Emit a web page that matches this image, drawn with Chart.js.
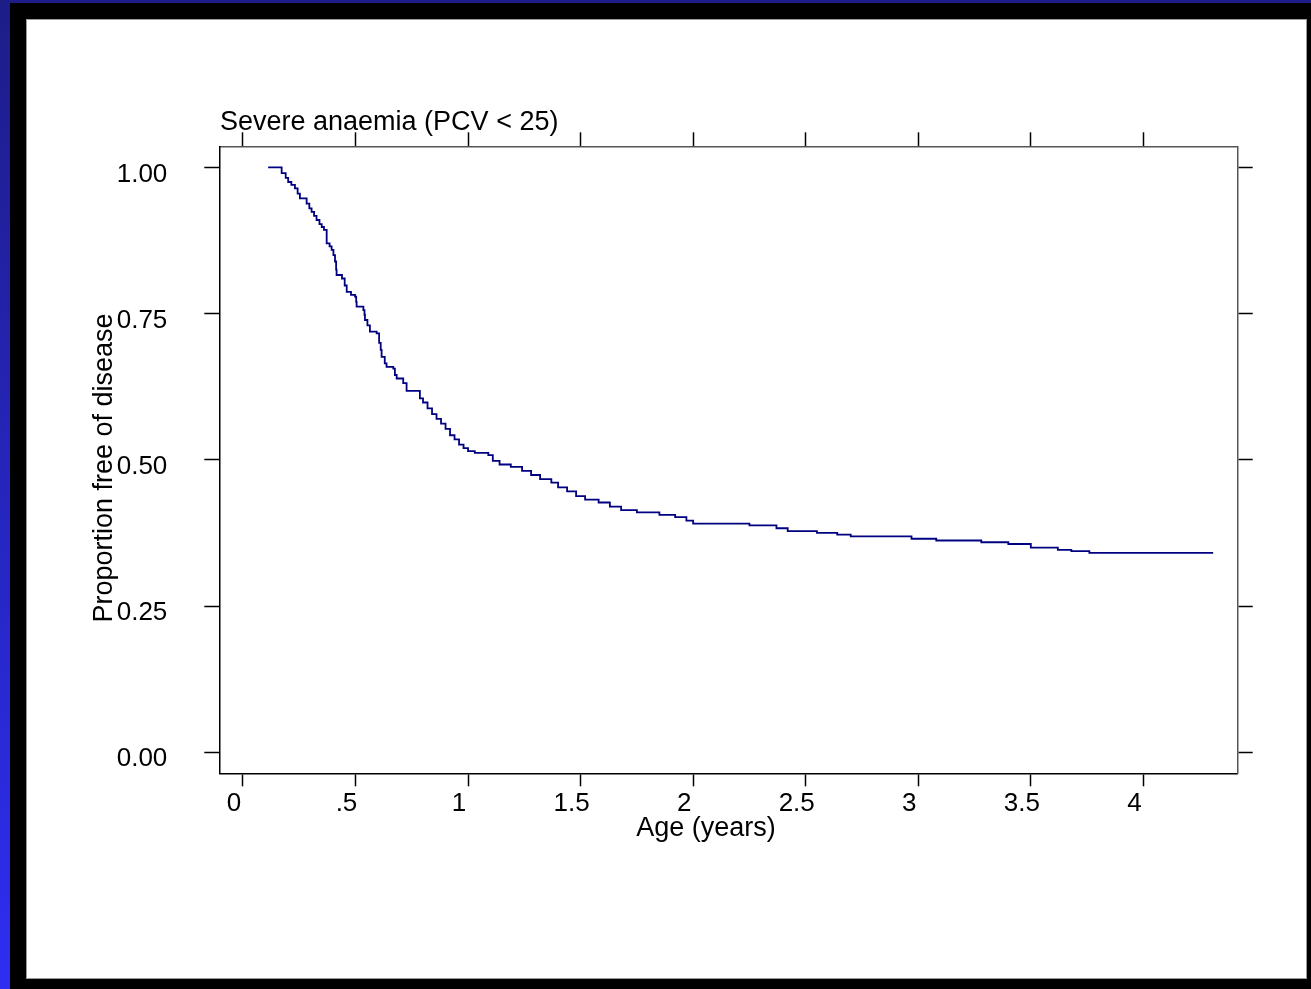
<!DOCTYPE html>
<html>
<head>
<meta charset="utf-8">
<script src="https://cdn.jsdelivr.net/npm/chart.js@4.4.0/dist/chart.umd.min.js"></script>
<style>
  body { margin: 0; width: 1311px; height: 989px; overflow: hidden; }
  #slide { position: absolute; left: 0; top: 0; width: 1311px; height: 989px; background: linear-gradient(#1d1d88, #2e2ef2); }
  #frame { position: absolute; left: 10px; top: 3px; width: 1301px; height: 986px; background: #000; }
  #panel { position: absolute; left: 26px; top: 19px; width: 1279px; height: 958px; background: #fff; border: 1px solid #999; }
  #chart { position: absolute; left: 0; top: 0; }
</style>
</head>
<body>
<div id="slide"></div>
<div id="frame"></div>
<div id="panel"></div>
<canvas id="chart" width="1311" height="989"></canvas>
<script>
// Kaplan-Meier steps: age (years) and proportion still free of disease
const ageYears = [0.112, 0.172, 0.190, 0.201, 0.215, 0.231, 0.243, 0.253, 0.283, 0.295, 0.305, 0.316, 0.327, 0.340, 0.350, 0.360,
  0.372, 0.385, 0.394, 0.402, 0.409, 0.414, 0.416, 0.440, 0.452, 0.461, 0.480, 0.498, 0.503, 0.505, 0.535, 0.540,
  0.542, 0.553, 0.564, 0.594, 0.605, 0.612, 0.616, 0.630, 0.638, 0.668, 0.675, 0.683, 0.712, 0.727, 0.786,
  0.80, 0.82, 0.84, 0.86, 0.88, 0.90, 0.92, 0.94, 0.96, 0.98, 1.00, 1.03, 1.09, 1.11, 1.14, 1.19, 1.24, 1.28,
  1.32, 1.37, 1.40, 1.44, 1.48, 1.52, 1.58, 1.63, 1.68, 1.75, 1.85, 1.92, 1.97, 2.00, 2.25, 2.37, 2.42, 2.55,
  2.64, 2.70, 2.97, 3.08, 3.28, 3.40, 3.50, 3.62, 3.68, 3.76, 4.31];
const propFree = [1.000, 0.990, 0.982, 0.975, 0.970, 0.964, 0.955, 0.947, 0.938, 0.930, 0.924, 0.917, 0.910, 0.903, 0.898, 0.893,
  0.870, 0.865, 0.859, 0.850, 0.839, 0.825, 0.816, 0.810, 0.798, 0.787, 0.782, 0.779, 0.770, 0.762, 0.756, 0.748,
  0.739, 0.730, 0.719, 0.716, 0.700, 0.688, 0.676, 0.665, 0.659, 0.656, 0.645, 0.639, 0.631, 0.618, 0.605,
  0.598, 0.588, 0.578, 0.570, 0.562, 0.553, 0.542, 0.535, 0.526, 0.520, 0.515, 0.512, 0.508, 0.498, 0.492, 0.488, 0.481, 0.474,
  0.467, 0.461, 0.453, 0.446, 0.438, 0.432, 0.427, 0.420, 0.414, 0.410, 0.406, 0.402, 0.396, 0.391, 0.388, 0.383, 0.378, 0.375,
  0.372, 0.369, 0.365, 0.362, 0.359, 0.356, 0.350, 0.346, 0.344, 0.341, 0.341];

const xTicks = [0, 0.5, 1, 1.5, 2, 2.5, 3, 3.5, 4];
const xTickLabels = ['0', '.5', '1', '1.5', '2', '2.5', '3', '3.5', '4'];
const yTicks = [0, 0.25, 0.5, 0.75, 1];
const yTickLabels = ['0.00', '0.25', '0.50', '0.75', '1.00'];

const FONT = '"Liberation Sans", Arial, sans-serif';
Chart.defaults.font.family = FONT;
Chart.defaults.font.size = 26;
Chart.defaults.color = '#000';

const points = ageYears.map((a, i) => ({ x: a, y: propFree[i] }));

function axisStyle(tickLength) {
  return {
    display: true,
    drawOnChartArea: false,
    drawTicks: true,
    tickLength: tickLength,
    tickColor: '#000',
    tickWidth: 1.5
  };
}

const textPlugin = {
  id: 'slideText',
  afterDraw(chart) {
    const ctx = chart.ctx;
    ctx.save();
    ctx.fillStyle = '#000';
    ctx.font = '27px ' + FONT;
    ctx.textBaseline = 'alphabetic';
    ctx.textAlign = 'left';
    ctx.fillText('Severe anaemia (PCV < 25)', 220, 130);
    ctx.textAlign = 'center';
    ctx.fillText('Age (years)', 706, 836);
    ctx.translate(112, 468);
    ctx.rotate(-Math.PI / 2);
    ctx.fillText('Proportion free of disease', 0, 0);
    ctx.restore();
  }
};

new Chart(document.getElementById('chart'), {
  type: 'line',
  data: {
    datasets: [{
      data: points,
      borderColor: '#000080',
      borderWidth: 1.8,
      pointRadius: 0,
      stepped: true,
      fill: false
    }]
  },
  options: {
    responsive: false,
    animation: false,
    devicePixelRatio: 1,
    layout: { padding: 0 },
    plugins: { legend: { display: false }, tooltip: { enabled: false }, title: { display: false } },
    scales: {
      x: {
        type: 'linear', position: 'bottom', min: -0.105, max: 4.419,
        afterBuildTicks: s => { s.ticks = xTicks.map(v => ({ value: v })); },
        afterFit: s => { s.height = 989 - 773.3; },
        ticks: { padding: 2, labelOffset: -9, maxRotation: 0, autoSkip: false, callback: (v, i) => xTickLabels[i] },
        grid: axisStyle(13),
        border: { display: true, color: '#000', width: 1.5 }
      },
      x2: {
        type: 'linear', position: 'top', min: -0.105, max: 4.419,
        afterBuildTicks: s => { s.ticks = xTicks.map(v => ({ value: v })); },
        afterFit: s => { s.height = 146.3; },
        ticks: { display: false },
        grid: axisStyle(14),
        border: { display: true, color: '#555', width: 1.5 }
      },
      y: {
        type: 'linear', position: 'left', min: -0.036, max: 1.036,
        afterBuildTicks: s => { s.ticks = yTicks.map(v => ({ value: v })); },
        afterFit: s => { s.width = 219.3; },
        ticks: { padding: 37, labelOffset: 7, autoSkip: false, callback: (v, i) => yTickLabels[i] },
        grid: axisStyle(15),
        border: { display: true, color: '#000', width: 1.5 }
      },
      y2: {
        type: 'linear', position: 'right', min: -0.036, max: 1.036,
        afterBuildTicks: s => { s.ticks = yTicks.map(v => ({ value: v })); },
        afterFit: s => { s.width = 1311 - 1237.7; },
        ticks: { display: false },
        grid: axisStyle(15),
        border: { display: true, color: '#555', width: 1.5 }
      }
    }
  },
  plugins: [textPlugin]
});
</script>
</body>
</html>
